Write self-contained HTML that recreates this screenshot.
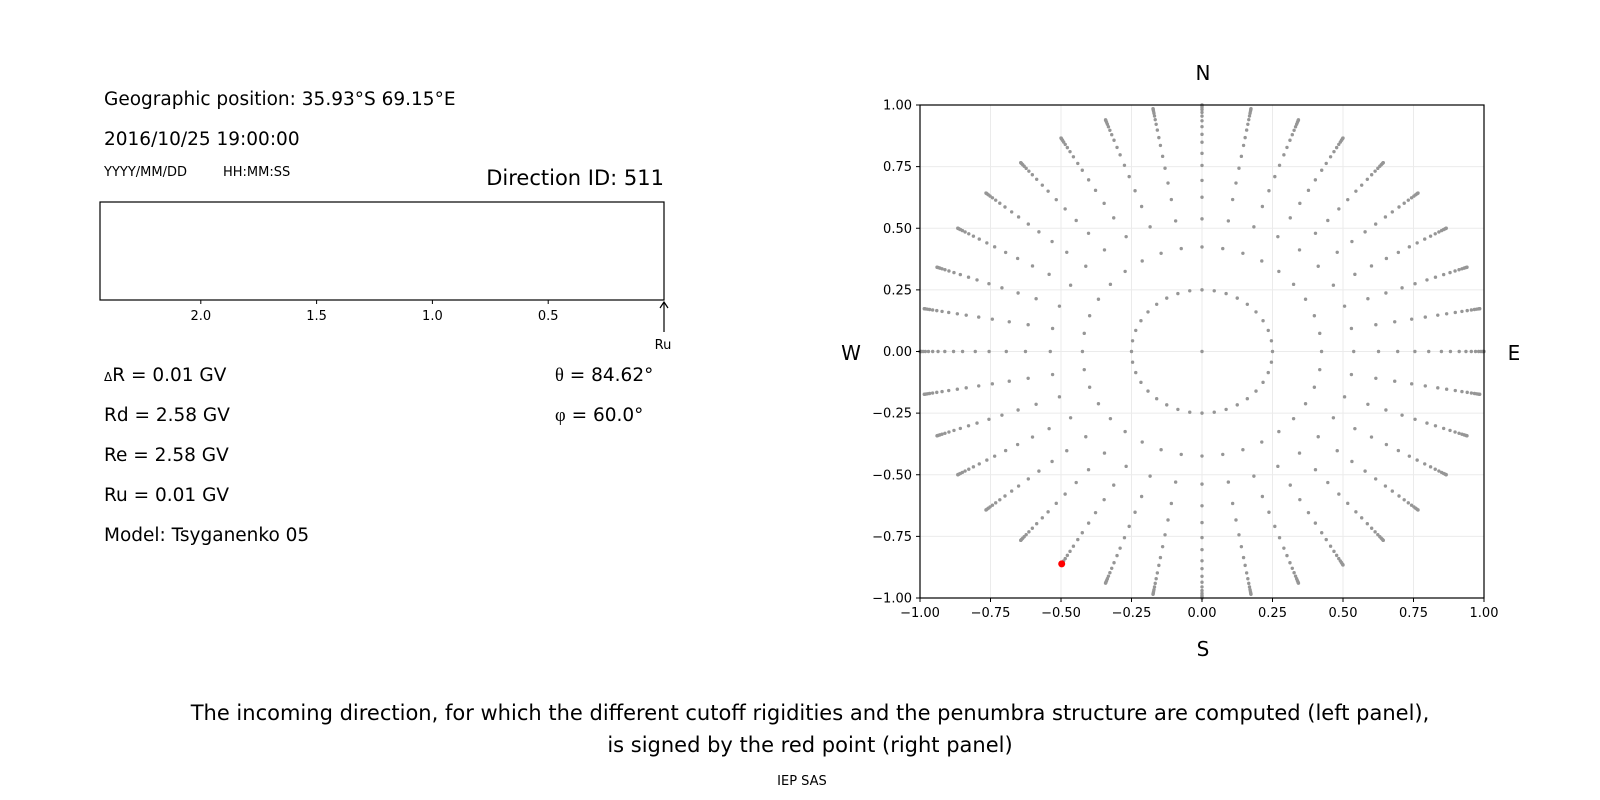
<!DOCTYPE html>
<html><head><meta charset="utf-8"><style>
html,body{margin:0;padding:0;background:#fff;}
svg{display:block;font-family:"DejaVu Sans","Liberation Sans",sans-serif;}
</style></head><body>
<svg id="fig" width="1600" height="800" viewBox="0 0 1600 800" xmlns="http://www.w3.org/2000/svg">
<g>
<text x="104" y="105" font-size="18.5">Geographic position: 35.93°S 69.15°E</text>
<text x="104" y="145" font-size="18.5">2016/10/25 19:00:00</text>
<text x="104" y="176" font-size="13">YYYY/MM/DD</text>
<text x="223" y="176" font-size="13">HH:MM:SS</text>
<text x="664" y="185" font-size="21" text-anchor="end">Direction ID: 511</text>
<rect x="100" y="202" width="564" height="98" fill="none" stroke="#000" stroke-width="1.2"/>
<g id="pen-ticks"></g>
<line x1="664" y1="332" x2="664" y2="303" stroke="#000" stroke-width="1.2"/>
<path d="M660 308 L664 302 L668 308" fill="none" stroke="#000" stroke-width="1.2"/>
<text x="663" y="349" font-size="13" text-anchor="middle">Ru</text>
<text x="104" y="381" font-size="18.5"><tspan font-size="12">Δ</tspan>R = 0.01 GV</text>
<text x="104" y="421" font-size="18.5">Rd = 2.58 GV</text>
<text x="104" y="461" font-size="18.5">Re = 2.58 GV</text>
<text x="104" y="501" font-size="18.5">Ru = 0.01 GV</text>
<text x="104" y="541" font-size="18.5">Model: Tsyganenko 05</text>
<text x="555" y="381" font-size="18.5"><tspan font-family="Liberation Serif,serif">θ</tspan> = 84.62°</text>
<text x="555" y="421" font-size="18.5"><tspan font-family="Liberation Serif,serif">φ</tspan> = 60.0°</text>
</g>
<g id="polar">
<g id="grid"></g>
<g id="pts"></g>
<rect x="920" y="105" width="564" height="493" fill="none" stroke="#000" stroke-width="1.2"/>
<g id="ticks"></g>
<text x="1203" y="80" font-size="20" text-anchor="middle">N</text>
<text x="1203" y="656" font-size="20" text-anchor="middle">S</text>
<text x="851" y="360" font-size="20" text-anchor="middle">W</text>
<text x="1514" y="360" font-size="20" text-anchor="middle">E</text>
</g>
<text x="810" y="720" font-size="21" text-anchor="middle">The incoming direction, for which the different cutoff rigidities and the penumbra structure are computed (left panel),</text>
<text x="810" y="752" font-size="21" text-anchor="middle">is signed by the red point (right panel)</text>
<text x="802" y="785" font-size="13" text-anchor="middle">IEP SAS</text>
</svg>
<script>
const penTicks = [2.0, 1.5, 1.0, 0.5];
const axisTicks = [-1.0, -0.75, -0.5, -0.25, 0, 0.25, 0.5, 0.75, 1.0];
const rayAzimuths = [0,10,20,30,40,50,60,70,80,90,100,110,120,130,140,150,160,170,180,190,200,210,220,230,240,250,260,270,280,290,300,310,320,330,340,350];
const rayRadii = [0.424,0.538,0.626,0.694,0.755,0.804,0.849,0.881,0.912,0.936,0.955,0.970,0.981,0.989,0.995,0.999,1.0];
const innerRingRadius = [0.25];
const innerRingAzimuths = [0,10,20,30,40,50,60,70,80,90,100,110,120,130,140,150,160,170,180,190,200,210,220,230,240,250,260,270,280,290,300,310,320,330,340,350];
const selectedDirection = [210, 0.995];

const NS='http://www.w3.org/2000/svg';
function mk(tag, attrs, parent){const e=document.createElementNS(NS,tag);for(const k in attrs)e.setAttribute(k,attrs[k]);parent.appendChild(e);return e;}
const fmt2=v=>(v<0?'\u2212':'')+Math.abs(v).toFixed(2);
// penumbra axis
const penX=v=>664-v*231.6;
const pt=document.getElementById('pen-ticks');
penTicks.forEach(v=>{
  const l=mk('line',{x1:penX(v),x2:penX(v),y1:300,y2:304,stroke:'#000','stroke-width':1},pt);
  
  
  const t=mk('text',{x:penX(v),y:320,'font-size':13,'text-anchor':'middle'},pt);
  t.textContent=v.toFixed(1);
  
  
});
// polar axes
const sx=v=>1202+v*282, sy=v=>351.5-v*246.5;
const grid=document.getElementById('grid'), ticks=document.getElementById('ticks');
axisTicks.forEach(v=>{
  const gx=mk('line',{x1:sx(v),x2:sx(v),y1:105,y2:598,stroke:'#ebebeb','stroke-width':1},grid);
  
  
  const gy=mk('line',{x1:920,x2:1484,y1:sy(v),y2:sy(v),stroke:'#ebebeb','stroke-width':1},grid);
  
  
  const tx=mk('line',{x1:sx(v),x2:sx(v),y1:598,y2:602,stroke:'#000'},ticks);
  
  
  const lx=mk('text',{x:sx(v),y:617,'font-size':13,'text-anchor':'middle'},ticks);
  lx.textContent=fmt2(v);
  
  
  const ty=mk('line',{x1:916,x2:920,y1:sy(v),y2:sy(v),stroke:'#000'},ticks);
  
  
  const ly=mk('text',{x:912,y:sy(v)+4.5,'font-size':13,'text-anchor':'end'},ticks);
  ly.textContent=fmt2(v);
  
  
});
const pts=document.getElementById('pts');
function dot(az,r,color,size,name){
  const a=az*Math.PI/180;
  const c=mk('circle',{cx:sx(r*Math.sin(a)),cy:sy(r*Math.cos(a)),r:size,fill:color},pts);
  
  
}
rayAzimuths.forEach(az=>rayRadii.forEach(r=>dot(az,r,'#969696',1.7,'direction-point')));
innerRingAzimuths.forEach(az=>dot(az,innerRingRadius[0],'#969696',1.7,'inner-ring-point'));
dot(0,0,'#969696',1.7,'zenith-point');
dot(selectedDirection[0],selectedDirection[1],'#ff0000',3.5,'selected-direction');
</script>
</body></html>
